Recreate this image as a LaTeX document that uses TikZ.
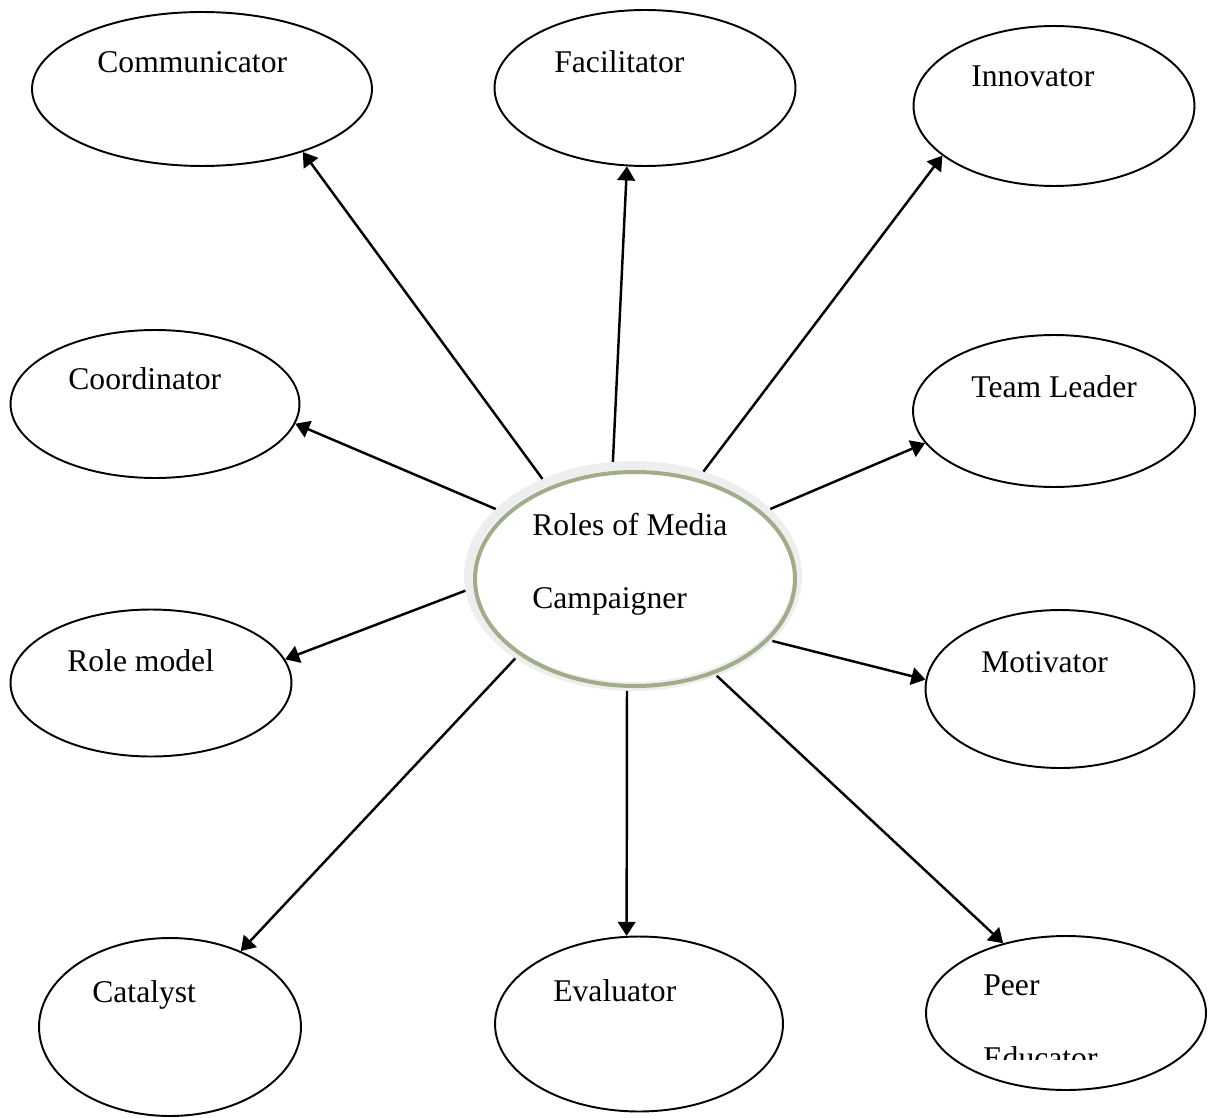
\documentclass[tikz,border=0pt]{standalone}
\usepackage{fontspec}
\setmainfont{Liberation Serif}
\usetikzlibrary{shapes.geometric,arrows.meta}
\definecolor{ringgray}{HTML}{EEEEEE}
\definecolor{ringgreen}{HTML}{A0AD8B}

\begin{document}
\begin{tikzpicture}
     [x=0.02cm, y=-0.02cm,
     roleball/.style={ellipse, draw=black, fill=white, line width=1.1pt, inner sep=0pt},
     centreball/.style={ellipse, draw=ringgray, fill=white, line width=0.18cm, inner sep=0pt, minimum width=6.58cm, minimum height=4.42cm},
     rolelabel/.style={anchor=base west, inner sep=0pt, font=\fontsize{18}{22}\selectfont},
     roleline/.style={-{Triangle[length=8pt,width=10pt]}, line width=1.4pt},
     ]
 \useasboundingbox (0,0) rectangle (1213,1118);
 % centre
 \node at (633,576) [centreball] (ctr) {};
 \draw[ringgreen, line width=0.08cm] ([xshift=0.04cm,yshift=-0.06cm]ctr.center) ellipse (160 and 107);
 \node at (532,535) [rolelabel] (ctrtop) {Roles of Media};
 \node at (532,608) [rolelabel] (ctrbot) {Campaigner};
 % roles
 \node at (202,89) [roleball, minimum width=6.80cm, minimum height=3.08cm] (comm) {};
 \node at (645,88) [roleball, minimum width=6.02cm, minimum height=3.12cm] (facil) {};
 \node at (1054,106) [roleball, minimum width=5.62cm, minimum height=3.20cm] (innov) {};
 \node at (155,404) [roleball, minimum width=5.78cm, minimum height=2.96cm] (coord) {};
 \node at (1054,411) [roleball, minimum width=5.64cm, minimum height=3.04cm] (team) {};
 \node at (151,683) [roleball, minimum width=5.62cm, minimum height=2.94cm] (role) {};
 \node at (1060,689) [roleball, minimum width=5.38cm, minimum height=3.16cm] (motiv) {};
 \node at (170,1027) [roleball, minimum width=5.24cm, minimum height=3.56cm] (cata) {};
 \node at (639,1024) [roleball, minimum width=5.76cm, minimum height=3.50cm] (eval) {};
 \node at (1066,1013) [roleball, minimum width=5.60cm, minimum height=3.08cm] (peer) {};
 % labels
 \node at (97,73) [rolelabel] (commtxt) {Communicator};
 \node at (554,73) [rolelabel] (faciltxt) {Facilitator};
 \node at (971,87) [rolelabel] (innovtxt) {Innovator};
 \node at (68,389) [rolelabel] (coordtxt) {Coordinator};
 \node at (971,398) [rolelabel] (teamtxt) {Team Leader};
 \node at (67,671) [rolelabel] (roletxt) {Role model};
 \node at (981,672) [rolelabel] (motivtxt) {Motivator};
 \node at (92,1002) [rolelabel] (catatxt) {Catalyst};
 \node at (553,1001) [rolelabel] (evaltxt) {Evaluator};
 \node at (983,995) [rolelabel] (peertxt) {Peer};
 \begin{scope}
  \clip (930,1010) rectangle (1200,1059);
  \node at (983,1068) [rolelabel] (edutxt) {Educator};
 \end{scope}
 % arrows
 \draw[roleline] (ctr.133) -- (comm.-32);
 \draw[roleline] (ctr.100) -- (facil.-103);
 \draw[roleline] (ctr.56) -- (innov.-156);
 \draw[roleline] (ctr.154) -- (coord.-8);
 \draw[roleline] (ctr.26) -- (team.-166);
 \draw[roleline] (ctr.185) -- (role.10);
 \draw[roleline] (ctr.-25) -- (motiv.176);
 \draw[roleline] (ctr.-145) -- (cata.47);
 \draw[roleline] (ctr.-93) -- (eval.98);
 \draw[roleline] (ctr.-50) -- (peer.132);
 \end{tikzpicture}
\end{document}
